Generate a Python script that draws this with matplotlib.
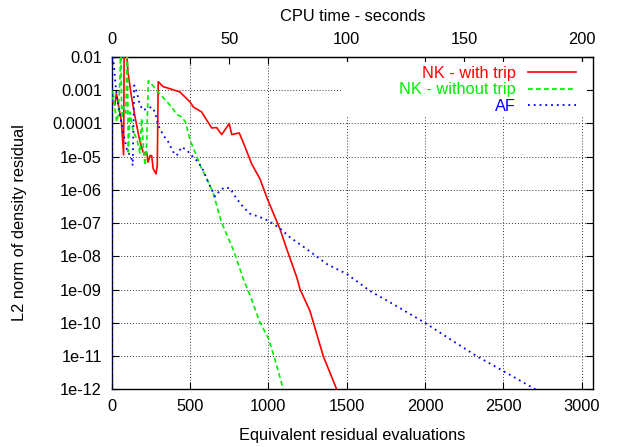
import numpy as np
import matplotlib
matplotlib.use('Agg')
import matplotlib.pyplot as plt
from matplotlib.patches import Rectangle
from matplotlib.ticker import FixedLocator, FuncFormatter, NullLocator

plt.rcParams['font.family'] = ['Liberation Sans', 'DejaVu Sans']
FS = 11.8

# ---- data (x = equivalent residual evaluations, y = log10 of L2 residual) ----
nk_trip_evals = [0, 10, 20, 30, 45, 62, 76, 80, 90, 104, 125, 147, 178, 200, 213, 223, 232, 245, 255, 265,
                 283, 291, 297, 308, 329, 372, 436, 468, 500, 521, 574, 638, 670, 702, 750, 766, 814, 851,
                 893, 946, 993, 1074, 1117, 1181, 1202, 1265, 1287, 1350, 1436]
nk_trip_log10 = [-3.3, -3.35, -3.45, -3.1, -3.5, -3.95, -4.95, -1.5, -1.5, -2.46, -3.16, -3.76, -4.5, -4.86,
                 -4.92, -4.86, -5.17, -4.97, -4.97, -5.37, -5.52, -5.27, -2.75, -2.8, -2.9, -2.96, -3.06,
                 -3.21, -3.36, -3.51, -3.66, -4.14, -4.13, -4.34, -4.01, -4.34, -4.29, -4.71, -5.22, -5.67,
                 -6.27, -7.18, -7.78, -8.63, -8.99, -9.64, -9.99, -11.0, -12.0]

nk_notrip_evals = [0, 5, 10, 21, 32, 42, 53, 58, 64, 75, 90, 100, 106, 117, 138, 160, 180, 191, 205, 213,
                   223, 234, 250, 297, 383, 415, 440, 470, 500, 530, 563, 606, 645, 700, 780, 840, 883,
                   946, 999, 1042, 1095]
nk_notrip_log10 = [-3.0, -3.3, -3.1, -3.56, -3.96, -3.76, -2.65, -1.5, -3.86, -3.5, -3.7, -1.5, -4.86, -3.66,
                   -4.26, -4.46, -4.9, -3.86, -4.9, -5.27, -4.66, -2.72, -2.8, -3.06, -3.51, -3.74, -3.79,
                   -3.95, -4.5, -4.85, -5.25, -5.67, -6.05, -6.97, -7.85, -8.68, -9.17, -9.99, -10.45,
                   -11.1, -12.0]

af_evals = [0, 2, 10, 20, 32, 53, 75, 100, 125, 134, 144, 160, 181, 202, 223, 255, 276, 297, 329, 361,
            393, 415, 447, 479, 511, 553, 585, 616, 659, 691, 723, 755, 798, 840, 883, 946, 999, 1074,
            1138, 1244, 1372, 1500, 1648, 1797, 1999, 2159, 2329, 2499, 2704]
af_log10 = [-20, -1.8, -2.05, -2.6, -3.16, -3.76, -4.3, -4.86, -5.0, -5.27, -2.86, -3.06, -3.46, -3.61,
            -3.56, -3.51, -3.66, -4.06, -4.36, -4.56, -4.86, -4.97, -4.71, -4.81, -4.97, -5.17, -5.42,
            -5.77, -6.2, -6.02, -5.92, -5.96, -6.27, -6.52, -6.72, -6.82, -6.93, -7.16, -7.43, -7.78,
            -8.23, -8.53, -9.04, -9.44, -10.0, -10.49, -11.0, -11.45, -12.0]

series_labels = ['NK - with trip', 'NK - without trip', 'AF']
x_ticks = [0, 500, 1000, 1500, 2000, 2500, 3000]
cpu_ticks = [0, 50, 100, 150, 200]
y_tick_exponents = list(range(-12, -1))
evals_per_second = 15.0

# ---- figure ----
fig = plt.figure(figsize=(6.17, 4.47), dpi=100)
ax = fig.add_axes([0.181, 0.129, 0.780, 0.744])

ax.plot(nk_trip_evals, 10.0 ** np.array(nk_trip_log10), color='#ff0000', lw=1.2,
        label=series_labels[0], zorder=3)
ax.plot(nk_notrip_evals, 10.0 ** np.array(nk_notrip_log10), color='#00ee00', lw=1.2,
        linestyle=(0, (2.9, 1.9)), label=series_labels[1], zorder=3)
ax.plot(af_evals, 10.0 ** np.array(af_log10), color='#0000ff', lw=1.3,
        linestyle=(0, (1.0, 2.2)), label=series_labels[2], zorder=3)

ax.set_yscale('log')
ax.set_xlim(0, 3071)
ax.set_ylim(1e-12, 1e-2)
ax.set_axisbelow(True)

ax.xaxis.set_major_locator(FixedLocator(x_ticks))
ax.yaxis.set_major_locator(FixedLocator([10.0 ** e for e in y_tick_exponents]))
ax.yaxis.set_minor_locator(NullLocator())
ax.yaxis.set_major_formatter(FuncFormatter(lambda v, p: '%g' % v))

ax.tick_params(which='both', direction='in', length=5, width=0.8, top=True, right=True,
               labelsize=FS, pad=7, colors='black')
ax.tick_params(axis='y', pad=7)
ax.grid(True, color='#333333', lw=0.7, linestyle=(0, (1, 2)))

for s in ax.spines.values():
    s.set_linewidth(1.0)
    s.set_color('black')

ax.set_xlabel('Equivalent residual evaluations', fontsize=FS, labelpad=10)
ax.set_ylabel('L2 norm of density residual', fontsize=FS, labelpad=18)

sec = ax.secondary_xaxis('top', functions=(lambda x: x / evals_per_second,
                                          lambda x: x * evals_per_second))
sec.set_xticks(cpu_ticks)
sec.tick_params(direction='in', length=5, width=0.8, labelsize=FS, pad=7)
sec.set_xlabel('CPU time - seconds', fontsize=FS, labelpad=8)

# opaque key area (covers grid like gnuplot's opaque key)
ax.add_patch(Rectangle((0.4785, 0.8187), 0.509, 0.166, transform=ax.transAxes,
                       facecolor='white', edgecolor='none', zorder=1))

leg = ax.legend(loc='upper right', bbox_to_anchor=(0.9647, 0.973), borderaxespad=0, borderpad=0,
                frameon=False, markerfirst=False, labelcolor='linecolor', fontsize=FS,
                handlelength=2.9, handletextpad=0.75, labelspacing=0.1)

fig.savefig('out.png', dpi=100)
